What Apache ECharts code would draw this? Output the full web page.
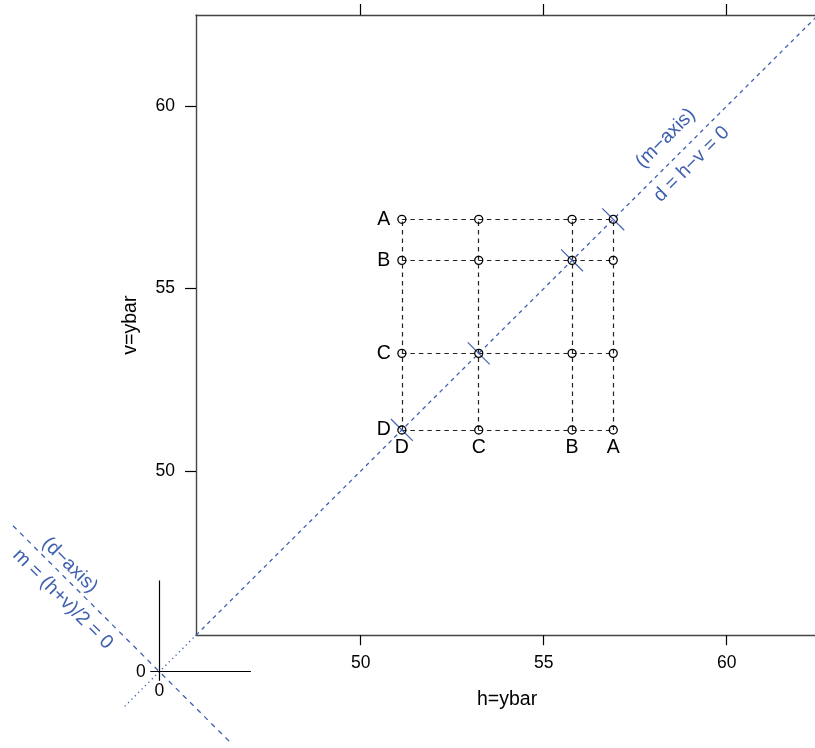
<!DOCTYPE html>
<html>
<head>
<meta charset="utf-8">
<script src="https://cdn.jsdelivr.net/npm/echarts@6/dist/echarts.min.js"></script>
<style>html,body{margin:0;padding:0;background:#fff;}#c{width:815px;height:748px;}</style>
</head>
<body>
<div id="c"></div>
<script>
// ---- data ----
const levels = ['A', 'B', 'C', 'D'];
const means = [56.9, 55.775, 53.225, 51.125];
const xTicks = [50, 55, 60];
const yTicks = [50, 55, 60];
const axisRange = [45.5, 62.5];
const origin = 44.5;           // displayed position of the (0,0) origin
const originLabel = '0';
const xName = 'h=ybar';
const yName = 'v=ybar';
const mAxisTexts = ['(m\u2212axis)', 'd = h\u2212v = 0'];
const dAxisTexts = ['(d\u2212axis)', 'm = (h+v)/2 = 0'];

// ---- styles / layout ----
const FONT = '"Liberation Sans", Arial, Helvetica, sans-serif';
const BLUE = '#3f60b0';
const BOX = '#444';

const lo = Math.min(...means), hi = Math.max(...means);

const gridSegs = [];
means.forEach(m => {
  gridSegs.push({coords: [[lo, m], [hi, m]]});
  gridSegs.push({coords: [[m, lo], [m, hi]]});
});
const mAxisSeg = [{coords: [[axisRange[0], axisRange[0]], [axisRange[1], axisRange[1]]]}];
const mAxisExt = [{coords: [[43.55, 43.55], [axisRange[0], axisRange[0]]]}];
const dAxisSeg = [{coords: [[40.5, 2 * origin - 40.5], [46.5, 2 * origin - 46.5]]}];
const crossSegs = means.map(m => ({coords: [[m - 0.3, m + 0.3], [m + 0.3, m - 0.3]]}));
const originSegs = [
  {coords: [[origin, origin - 0.25], [origin, origin + 2.5]]},
  {coords: [[origin - 0.25, origin], [origin + 2.5, origin]]}
];

const points = [];
means.forEach(h => means.forEach(v => points.push([h, v])));

// text annotations: [x, y, text, dx, dy, rotationDeg, color, fontSize]
const texts = [];
means.forEach((m, i) => {
  texts.push([lo, m, levels[i], -18, 0, 0, '#000', 19.5]);
  texts.push([m, lo, levels[i], 0, 18, 0, '#000', 19.5]);
});
texts.push([origin, origin, originLabel, -18.5, 0, 0, '#000', 17.5]);
texts.push([origin, origin, originLabel, 0, 19, 0, '#000', 17.5]);
texts.push([58.33, 59.12, mAxisTexts[0], 0, 0, 45, BLUE, 19.5]);
texts.push([59.04, 58.41, mAxisTexts[1], 0, 0, 45, BLUE, 19.5]);
texts.push([42.05, 47.42, dAxisTexts[0], 0, 0, -45, BLUE, 19.5]);
texts.push([41.86, 46.49, dAxisTexts[1], 0, 0, -45, BLUE, 19.5]);

const chart = echarts.init(document.getElementById('c'), null, {renderer: 'canvas'});

const tickLabelStyle = {color: '#000', fontSize: 17.5, fontFamily: FONT};

chart.setOption({
  animation: false,
  backgroundColor: '#fff',
  grid: {left: 196, top: 15, width: 622.2, height: 620.2, outerBoundsMode: 'none', containLabel: false},
  xAxis: [{
    type: 'value', min: axisRange[0], max: axisRange[1], position: 'bottom',
    axisLine: {show: true, onZero: false, lineStyle: {color: BOX, width: 1.4}},
    axisTick: {show: true, customValues: xTicks, length: 10, lineStyle: {color: '#000', width: 1.2}},
    axisLabel: {show: true, customValues: xTicks, margin: 19, ...tickLabelStyle},
    splitLine: {show: false},
    name: xName, nameLocation: 'middle', nameGap: 54,
    nameTextStyle: {color: '#000', fontSize: 19.5, fontFamily: FONT}
  }, {
    type: 'value', min: axisRange[0], max: axisRange[1], position: 'top',
    axisLine: {show: true, onZero: false, lineStyle: {color: BOX, width: 1.4}},
    axisTick: {show: true, customValues: xTicks, length: 11, lineStyle: {color: '#000', width: 1.2}},
    axisLabel: {show: false},
    splitLine: {show: false}
  }],
  yAxis: [{
    type: 'value', min: axisRange[0], max: axisRange[1], position: 'left',
    axisLine: {show: true, onZero: false, lineStyle: {color: BOX, width: 1.4}},
    axisTick: {show: true, customValues: yTicks, length: 11, lineStyle: {color: '#000', width: 1.2}},
    axisLabel: {show: true, customValues: yTicks, margin: 21, ...tickLabelStyle},
    splitLine: {show: false},
    name: yName, nameLocation: 'middle', nameGap: 55,
    nameTextStyle: {color: '#000', fontSize: 19.5, fontFamily: FONT}
  }],
  series: [
    {type: 'lines', coordinateSystem: 'cartesian2d', clip: false, silent: true, data: gridSegs,
     lineStyle: {color: '#222', width: 1.2, type: [4.5, 4], opacity: 1}},
    {type: 'lines', coordinateSystem: 'cartesian2d', clip: false, silent: true, data: mAxisSeg,
     lineStyle: {color: BLUE, width: 1.3, type: [4, 4], opacity: 1}},
    {type: 'lines', coordinateSystem: 'cartesian2d', clip: false, silent: true, data: mAxisExt,
     lineStyle: {color: BLUE, width: 1.3, type: [1.3, 3.5], opacity: 1}},
    {type: 'lines', coordinateSystem: 'cartesian2d', clip: false, silent: true, data: dAxisSeg,
     lineStyle: {color: BLUE, width: 1.3, type: [5, 5], opacity: 1}},
    {type: 'lines', coordinateSystem: 'cartesian2d', clip: false, silent: true, data: crossSegs,
     lineStyle: {color: BLUE, width: 1.2, type: 'solid', opacity: 1}},
    {type: 'lines', coordinateSystem: 'cartesian2d', clip: false, silent: true, data: originSegs,
     lineStyle: {color: '#000', width: 1.2, type: 'solid', opacity: 1}},
    {type: 'scatter', data: points, symbol: 'circle', symbolSize: 8, clip: false,
     itemStyle: {color: 'rgba(255,255,255,0)', borderColor: '#000', borderWidth: 1.3, opacity: 1}},
    {type: 'custom', coordinateSystem: 'cartesian2d', clip: false, silent: true,
     data: texts.map((t, i) => [t[0], t[1], i]),
     encode: {x: 0, y: 1},
     renderItem: function (params, api) {
       const t = texts[api.value(2)];
       const p = api.coord([api.value(0), api.value(1)]);
       return {
         type: 'text', x: p[0] + t[3], y: p[1] + t[4],
         rotation: t[5] * Math.PI / 180,
         style: {text: t[2], fill: t[6], fontSize: t[7], fontFamily: FONT,
                 align: 'center', verticalAlign: 'middle'}
       };
     }}
  ]
});
</script>
</body>
</html>
